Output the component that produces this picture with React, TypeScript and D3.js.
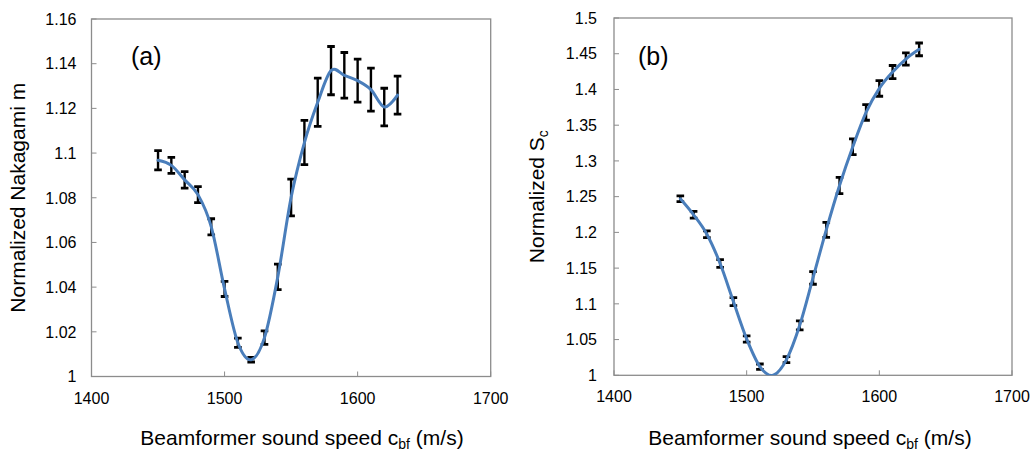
import React from 'react';
import * as d3 from 'd3';

const speeds = [1450, 1460, 1470, 1480, 1490, 1500, 1510, 1520, 1530, 1540, 1550, 1560, 1570, 1580, 1590, 1600, 1610, 1620, 1630];

const nakagamiMean = [1.0968, 1.0945, 1.0880, 1.0814, 1.0670, 1.0392, 1.0151, 1.0075, 1.0174, 1.0446, 1.0801, 1.1047, 1.1227, 1.1369, 1.1348, 1.1324, 1.1284, 1.1206, 1.1259];
const nakagamiErr = [0.0043, 0.0036, 0.0037, 0.0036, 0.0036, 0.0034, 0.0021, 0.0010, 0.0030, 0.0057, 0.0082, 0.0099, 0.0108, 0.0108, 0.0102, 0.0096, 0.0096, 0.0084, 0.0085];

const scMean = [1.247, 1.2246, 1.1975, 1.1564, 1.1032, 1.0509, 1.0121, 1.0, 1.0219, 1.07, 1.1363, 1.2035, 1.2656, 1.3198, 1.3679, 1.4015, 1.4244, 1.4426, 1.4561];
const scErr = [0.004, 0.0047, 0.0047, 0.0054, 0.0056, 0.0044, 0.0037, 0, 0.0042, 0.0063, 0.0089, 0.0105, 0.0114, 0.011, 0.011, 0.011, 0.0091, 0.0086, 0.0089];

const xTicks = [1400, 1500, 1600, 1700];
const nakagamiTicks = [1, 1.02, 1.04, 1.06, 1.08, 1.1, 1.12, 1.14, 1.16];
const scTicks = [1, 1.05, 1.1, 1.15, 1.2, 1.25, 1.3, 1.35, 1.4, 1.45, 1.5];

const FONT = '"Liberation Sans", Arial, sans-serif';
const BLUE = '#4a7ebb';
const FRAME = '#8c8c8c';

type PanelProps = {
  id: string;
  left: number; right: number; top: number; bottom: number;
  yDomain: [number, number];
  yTicks: number[];
  means: number[];
  errs: number[];
  tag: string;
  tagX: number;
  yTitleX: number;
  yTitle: React.ReactNode;
  xTitleX: number;
  tickLabelGap: number;
};

function Panel(p: PanelProps) {
  const x = d3.scaleLinear().domain([1400, 1700]).range([p.left, p.right]);
  const y = d3.scaleLinear().domain(p.yDomain).range([p.bottom, p.top]);
  const pts = speeds.map((s, i) => [s, p.means[i]] as [number, number]);
  const line = d3.line<[number, number]>()
    .x(d => x(d[0]))
    .y(d => y(d[1]))
    .curve(d3.curveCardinal.tension(0));
  const cap = 3.8;
  return (
    <g>
      <defs>
        <clipPath id={p.id}>
          <rect x={p.left} y={p.top} width={p.right - p.left} height={p.bottom - p.top} />
        </clipPath>
      </defs>
      <rect x={p.left} y={p.top} width={p.right - p.left} height={p.bottom - p.top}
        fill="white" stroke={FRAME} strokeWidth={1.3} />
      {p.yTicks.map(t => (
        <g key={'y' + t}>
          <line x1={p.left} x2={p.left + 5} y1={y(t)} y2={y(t)} stroke={FRAME} strokeWidth={1} />
          <text x={p.left - p.tickLabelGap} y={y(t)} dy="0.36em" textAnchor="end"
            fontSize={16} fontFamily={FONT} fill="#000">{String(t)}</text>
        </g>
      ))}
      {xTicks.map(t => (
        <g key={'x' + t}>
          <line x1={x(t)} x2={x(t)} y1={p.bottom} y2={p.bottom - 5} stroke={FRAME} strokeWidth={1} />
          <text x={x(t)} y={p.bottom + 27} textAnchor="middle"
            fontSize={16} fontFamily={FONT} fill="#000">{String(t)}</text>
        </g>
      ))}
      <g clipPath={`url(#${p.id})`}>
        {speeds.map((s, i) => p.errs[i] > 0 ? (
          <g key={'e' + s} stroke="#000">
            <line x1={x(s)} x2={x(s)} y1={y(p.means[i] - p.errs[i])} y2={y(p.means[i] + p.errs[i])} strokeWidth={2.4} />
            <line x1={x(s) - cap} x2={x(s) + cap} y1={y(p.means[i] + p.errs[i])} y2={y(p.means[i] + p.errs[i])} strokeWidth={2.8} />
            <line x1={x(s) - cap} x2={x(s) + cap} y1={y(p.means[i] - p.errs[i])} y2={y(p.means[i] - p.errs[i])} strokeWidth={2.8} />
          </g>
        ) : null)}
        <path d={line(pts) || ''} fill="none" stroke={BLUE} strokeWidth={3} strokeLinejoin="round" strokeLinecap="round" />
      </g>
      <text x={p.tagX} y={65} fontSize={25} fontFamily={FONT} fill="#000">{p.tag}</text>
      <g transform={`translate(${p.yTitleX},${(p.top + p.bottom) / 2}) rotate(-90)`}>
        <text x={0} y={0} textAnchor="middle" fontSize={21} fontFamily={FONT} fill="#000">{p.yTitle}</text>
      </g>
      <text x={p.xTitleX} y={445} textAnchor="middle" fontSize={21} fontFamily={FONT} fill="#000">
        Beamformer sound speed c<tspan fontSize={14} dy={4}>bf</tspan><tspan dy={-4}> (m/s)</tspan>
      </text>
    </g>
  );
}

export default function App() {
  return (
    <svg width={1034} height={455} style={{ position: 'absolute', left: 0, top: 0, background: 'white' }}>
      <rect x={0} y={0} width={1034} height={455} fill="white" />
      <Panel id="clipA" left={91.5} right={490.7} top={19} bottom={376.5}
        yDomain={[1, 1.16]} yTicks={nakagamiTicks} means={nakagamiMean} errs={nakagamiErr}
        tag="(a)" tagX={131} yTitleX={25} yTitle="Normalized Nakagami m" xTitleX={302}
        tickLabelGap={15} />
      <Panel id="clipB" left={614} right={1012} top={18} bottom={375.3}
        yDomain={[1, 1.5]} yTicks={scTicks} means={scMean} errs={scErr}
        tag="(b)" tagX={638} yTitleX={544}
        yTitle={<>Normalized S<tspan fontSize={14} dy={4}>c</tspan></>}
        xTitleX={810} tickLabelGap={17} />
    </svg>
  );
}
